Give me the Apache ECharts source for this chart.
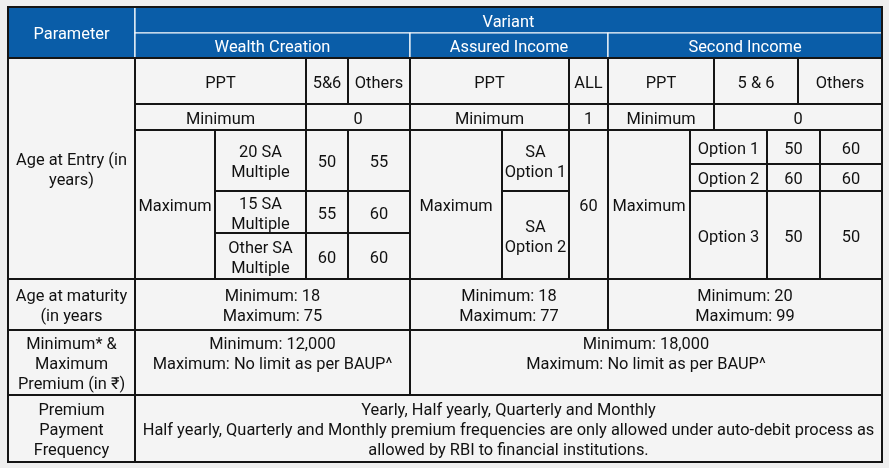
<!DOCTYPE html>
<html>
<head>
<meta charset="utf-8">
<script src="https://cdn.jsdelivr.net/npm/echarts@6/dist/echarts.min.js"></script>
<style>
  html, body { margin: 0; padding: 0; background: #efefef; }
  #main { width: 889px; height: 468px; }
</style>
</head>
<body>
<div id="main"></div>
<script>
// table contents
const variants = ['Wealth Creation', 'Assured Income', 'Second Income']
const parameters = ['Age at Entry (in\nyears)', 'Age at maturity\n(in years', 'Minimum* &\nMaximum\nPremium (in ₹)', 'Premium\nPayment\nFrequency']
const wcHeads = ['PPT', '5&6', 'Others']
const aiHeads = ['PPT', 'ALL']
const siHeads = ['PPT', '5 & 6', 'Others']
const minEntryAge = [0, 1, 0]
const wcMultiples = ['20 SA\nMultiple', '15 SA\nMultiple', 'Other SA\nMultiple']
const wcPpt56 = [50, 55, 60]
const wcOthers = [55, 60, 60]
const aiOptions = ['SA\nOption 1', 'SA\nOption 2']
const aiAll = 60
const siOptions = ['Option 1', 'Option 2', 'Option 3']
const siPpt56 = [50, 60, 50]
const siOthers = [60, 60, 50]
const maturityMin = [18, 18, 20]
const maturityMax = [75, 77, 99]
const premiumMin = ['12,000', '18,000']
const premiumMax = 'No limit as per BAUP^'
const frequency = [
  'Yearly, Half yearly, Quarterly and Monthly',
  'Half yearly, Quarterly and Monthly premium frequencies are only allowed under auto-debit process as',
  'allowed by RBI to financial institutions.'
]

// layout edges (axis units)
const X = { L: 8, P: 135, wcMax: 215, wcSA: 306, wc56: 348, WC: 410, aiMax: 502, aiSA: 569, AI: 608,
  siMax: 690, siPPT: 714, siOpt: 767, si56h: 798, si56: 820, R: 882 }
const Y = { T: 7, h1: 33, h2: 58, ppt: 104, min: 130, max: 279, mat: 330, prem: 395, B: 462 }
const wcRows = [130, 191, 233, 279]
const aiRows = [130, 191, 279]
const siRows = [130, 164, 191, 279]

const cells = []
function cell(x0, x1, y0, y1, text, opts) {
  cells.push(Object.assign({ x0, x1, y0, y1, text: String(text) }, opts || {}))
}

// header
cell(X.L, X.P, Y.T, Y.h2, 'Parameter', { head: true })
cell(X.P, X.R, Y.T, Y.h1, 'Variant', { head: true })
cell(X.P, X.WC, Y.h1, Y.h2, variants[0], { head: true })
cell(X.WC, X.AI, Y.h1, Y.h2, variants[1], { head: true })
cell(X.AI, X.R, Y.h1, Y.h2, variants[2], { head: true })

// age at entry
cell(X.L, X.P, Y.h2, Y.max, parameters[0])
cell(X.P, X.wcSA, Y.h2, Y.ppt, wcHeads[0])
cell(X.wcSA, X.wc56, Y.h2, Y.ppt, wcHeads[1])
cell(X.wc56, X.WC, Y.h2, Y.ppt, wcHeads[2])
cell(X.WC, X.aiSA, Y.h2, Y.ppt, aiHeads[0])
cell(X.aiSA, X.AI, Y.h2, Y.ppt, aiHeads[1])
cell(X.AI, X.siPPT, Y.h2, Y.ppt, siHeads[0])
cell(X.siPPT, X.si56h, Y.h2, Y.ppt, siHeads[1])
cell(X.si56h, X.R, Y.h2, Y.ppt, siHeads[2])

cell(X.P, X.wcSA, Y.ppt, Y.min, 'Minimum')
cell(X.wcSA, X.WC, Y.ppt, Y.min, minEntryAge[0])
cell(X.WC, X.aiSA, Y.ppt, Y.min, 'Minimum')
cell(X.aiSA, X.AI, Y.ppt, Y.min, minEntryAge[1])
cell(X.AI, X.siPPT, Y.ppt, Y.min, 'Minimum')
cell(X.siPPT, X.R, Y.ppt, Y.min, minEntryAge[2])

cell(X.P, X.wcMax, Y.min, Y.max, 'Maximum')
wcMultiples.forEach((m, i) => {
  cell(X.wcMax, X.wcSA, wcRows[i], wcRows[i + 1], m)
  cell(X.wcSA, X.wc56, wcRows[i], wcRows[i + 1], wcPpt56[i])
  cell(X.wc56, X.WC, wcRows[i], wcRows[i + 1], wcOthers[i])
})
cell(X.WC, X.aiMax, Y.min, Y.max, 'Maximum')
aiOptions.forEach((o, i) => cell(X.aiMax, X.aiSA, aiRows[i], aiRows[i + 1], o))
cell(X.aiSA, X.AI, Y.min, Y.max, aiAll)
cell(X.AI, X.siMax, Y.min, Y.max, 'Maximum')
siOptions.forEach((o, i) => {
  cell(X.siMax, X.siOpt, siRows[i], siRows[i + 1], o)
  cell(X.siOpt, X.si56, siRows[i], siRows[i + 1], siPpt56[i])
  cell(X.si56, X.R, siRows[i], siRows[i + 1], siOthers[i])
})

// age at maturity
const varCols = [[X.P, X.WC], [X.WC, X.AI], [X.AI, X.R]]
cell(X.L, X.P, Y.max, Y.mat, parameters[1])
varCols.forEach((c, i) => cell(c[0], c[1], Y.max, Y.mat, 'Minimum: ' + maturityMin[i] + '\nMaximum: ' + maturityMax[i]))

// premium
cell(X.L, X.P, Y.mat, Y.prem, parameters[2])
cell(X.P, X.WC, Y.mat, Y.prem, 'Minimum: ' + premiumMin[0] + '\nMaximum: ' + premiumMax, { top: true })
cell(X.WC, X.R, Y.mat, Y.prem, 'Minimum: ' + premiumMin[1] + '\nMaximum: ' + premiumMax, { top: true })

// frequency
cell(X.L, X.P, Y.prem, Y.B, parameters[3])
cell(X.P, X.R, Y.prem, Y.B, frequency.join('\n'))

// outer frame
cell(X.L, X.R, Y.T, Y.B, '', { frame: true })

const FONT = '16.4px Roboto'

function renderItem(params, api) {
  const c = cells[params.dataIndex]
  const p0 = api.coord([c.x0, c.y0])
  const p1 = api.coord([c.x1, c.y1])
  const x = p0[0], y = p0[1], w = p1[0] - p0[0], h = p1[1] - p0[1]
  const rect = {
    type: 'rect',
    shape: { x, y, width: w, height: h },
    style: c.frame
      ? { fill: 'none', stroke: '#151515', lineWidth: 2 }
      : c.head
        ? { fill: '#0a5da8', stroke: '#ffffff', lineWidth: 1.2 }
        : { fill: '#f4f4f4', stroke: '#151515', lineWidth: 2 }
  }
  const text = {
    type: 'text',
    style: {
      text: c.text,
      x: x + w / 2,
      y: c.top ? y + 4.5 : y + h / 2 + 2.5,
      align: 'center',
      verticalAlign: c.top ? 'top' : 'middle',
      fill: c.head ? '#ffffff' : '#111111',
      font: FONT,
      lineHeight: 20
    }
  }
  return { type: 'group', children: [rect, text] }
}

const chart = echarts.init(document.getElementById('main'))
chart.setOption({
  animation: false,
  grid: { left: X.L, right: 889 - X.R, top: Y.T, bottom: 468 - Y.B },
  xAxis: { type: 'value', min: X.L, max: X.R, show: false },
  yAxis: { type: 'value', min: Y.T, max: Y.B, inverse: true, show: false },
  series: [{
    type: 'custom',
    renderItem: renderItem,
    encode: { x: [0, 1], y: [2, 3] },
    data: cells.map(c => [c.x0, c.x1, c.y0, c.y1])
  }]
})
</script>
</body>
</html>
